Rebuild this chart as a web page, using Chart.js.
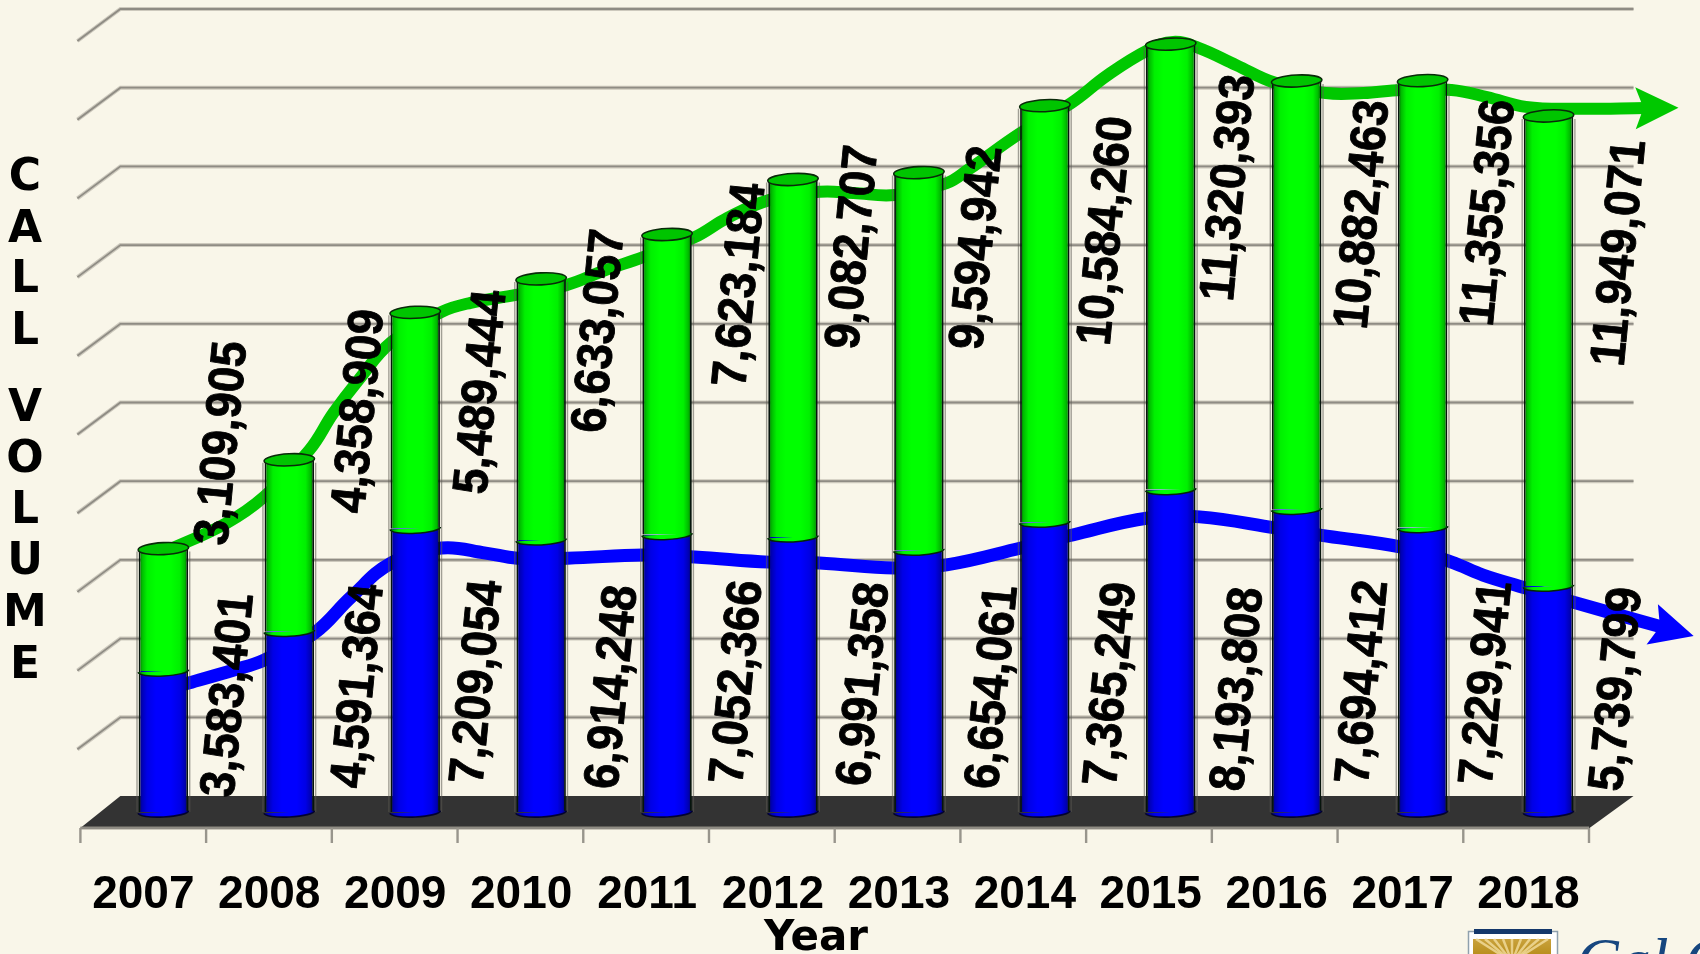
<!DOCTYPE html>
<html>
<head>
<meta charset="utf-8">
<title>Call Volume</title>
<style>
html,body{margin:0;padding:0;background:#F9F6E9;overflow:hidden}
#wrap{position:relative;width:1700px;height:954px}
canvas{display:block}
</style>
<script src="https://cdn.jsdelivr.net/npm/chart.js@4/dist/chart.umd.min.js"></script>
</head>
<body>
<div id="wrap"><canvas id="c" width="1700" height="954"></canvas></div>
<script>
const categories = ['2007','2008','2009','2010','2011','2012','2013','2014','2015','2016','2017','2018'];
const blueValues = [3583401,4591364,7209054,6914248,7052366,6991358,6654061,7365249,8193808,7694412,7229941,5739799];
const greenValues = [3109905,4358909,5489444,6633057,7623184,9082707,9594942,10584260,11320393,10882463,11355356,11949071];
const yTicks = [2,4,6,8,10,12,14,16,18,20];

// Hand-drawn trend curves: year position and value in millions
const greenCurveYears = [2007.0,2007.50,2007.80,2008.16,2008.35,2008.55,2008.81,2009.21,2009.44,2009.80,2010.20,2010.51,2010.81,2011.22,2011.48,2011.81,2012.21,2012.48,2012.81,2013.22,2013.39,2013.81,2014.21,2014.50,2014.82,2015.02,2015.22,2015.52,2015.83,2016.23,2016.53,2016.83,2017.23,2017.51,2017.82,2018.22,2018.77];
const greenCurveValues = [6.60,7.34,8.01,9.20,10.14,10.98,11.94,12.71,12.94,13.14,13.39,13.77,14.10,14.61,15.10,15.55,15.76,15.73,15.68,15.98,16.32,17.26,18.02,18.73,19.36,19.57,19.42,18.98,18.53,18.27,18.27,18.35,18.35,18.17,17.92,17.87,17.89];
const blueCurveYears = [2007.0,2007.20,2007.56,2007.80,2008.20,2008.49,2008.81,2009.21,2009.56,2009.81,2010.21,2010.81,2011.22,2011.81,2012.21,2012.81,2013.22,2013.81,2014.22,2014.82,2015.23,2015.83,2016.24,2016.83,2017.23,2017.48,2017.82,2018.22,2018.90];
const blueCurveValues = [3.10,3.28,3.61,3.86,4.55,5.46,6.33,6.71,6.58,6.45,6.45,6.53,6.48,6.35,6.33,6.20,6.28,6.71,7.04,7.47,7.50,7.22,7.01,6.73,6.35,6.02,5.69,5.31,4.70];

// Label placement (offset from the bar, in pixels)
const blueLabelDx = [64,68,61,70,69,70,72.5,65,66,65,63,67];
const blueLabelDy = [-117,-126,-130,-125,-130,-128,-125,-128,-123,-130,-129,-123];
const greenLabelDx = [57.6,68.7,65,57,72,59,57,60,57,65,65,70];
const greenLabelDy = [-105.6,-48.8,79.7,52,50.5,67.5,75,125,143.5,133.5,132,137];
const yTitleLetters = ['C','A','L','L','V','O','L','U','M','E'];
const yTitleCenters = [174,226,276,328,405,456,507,558,610,662];

const DX = 20, DY = 16, TILT = -0.05, CAP_RY = 6, BOTTOM_RY = 5;
const fmt = v => v.toLocaleString('en-US');

function barGradient(ctx, cx, w, kind){
  const g = ctx.createLinearGradient(cx - w/2, 0, cx + w/2, 0);
  const s = kind === 'green'
    ? ['#005a00','#00bb00','#00f000','#00ff00','#00ff00','#00f000','#00bb00','#005a00']
    : ['#00006a','#0000b4','#0000e6','#0000ff','#0000ff','#0000e6','#0000b4','#00006a'];
  [0,.07,.17,.35,.65,.83,.93,1].forEach((p,i)=>g.addColorStop(p,s[i]));
  return g;
}
function scriptedFill(kind){
  return function(c){
    const chart = c.chart, x = chart.scales.x;
    const flat = kind === 'green' ? '#00ff00' : '#0000ff';
    if(!x || c.dataIndex === undefined) return flat;
    const px = x.getPixelForValue(c.dataIndex);
    if(!Number.isFinite(px)) return flat;
    return barGradient(chart.ctx, px, 49.5, kind);
  };
}
function gridStroke(ctx, pts){
  ctx.beginPath(); pts.forEach((p,i)=> i ? ctx.lineTo(p[0],p[1]) : ctx.moveTo(p[0],p[1]));
  ctx.strokeStyle='rgba(150,146,136,.45)'; ctx.lineWidth=4; ctx.stroke();
  ctx.strokeStyle='#8f8c84'; ctx.lineWidth=1.8; ctx.stroke();
}
function arrowHead(ctx, chart, idx, color){
  const pts = chart.getDatasetMeta(idx).data, n = pts.length;
  const a = pts[n-2], b = pts[n-1];
  const ang = Math.atan2(b.y-a.y, b.x-a.x), cs=Math.cos(ang), sn=Math.sin(ang);
  const P=(al,ac)=>[b.x+al*cs-ac*sn, b.y+al*sn+ac*cs];
  ctx.beginPath();
  ctx.moveTo(...P(33,0)); ctx.lineTo(...P(-10,-21)); ctx.lineTo(...P(-2,0)); ctx.lineTo(...P(-10,21)); ctx.closePath();
  ctx.fillStyle=color; ctx.fill();
}

const scenePlugin = {
  id:'scene3d',
  beforeDatasetsDraw(chart){
    const {ctx, chartArea:a, scales:{y}} = chart;
    const y0 = y.getPixelForValue(0);
    ctx.save();
    // floor
    ctx.beginPath();
    ctx.moveTo(a.left-DX, y0+DY); ctx.lineTo(a.left+DX, y0-DY);
    ctx.lineTo(a.right+DX+2, y0-DY); ctx.lineTo(a.right-DX-2, y0+DY); ctx.closePath();
    ctx.fillStyle='#333333'; ctx.fill();
    // walls
    yTicks.forEach(t=>{
      const py = y.getPixelForValue(t*1e6);
      gridStroke(ctx, [[a.left-DX-3, py+DY],[a.left+DX, py-DY],[a.right+DX+2, py-DY]]);
    });
    // front edge and ticks
    const fl = a.left-DX, fr = a.right-DX-2.5;
    gridStroke(ctx, [[fl, y0+DY],[fr, y0+DY]]);
    ctx.strokeStyle='#98958c'; ctx.lineWidth=2.4;
    for(let i=0;i<=categories.length;i++){
      const tx = fl + (fr-fl)*i/categories.length;
      ctx.beginPath(); ctx.moveTo(tx, y0+DY); ctx.lineTo(tx, y0+DY+15); ctx.stroke();
    }
    ctx.restore();
  },
  afterDatasetsDraw(chart){
    const {ctx, scales:{y}} = chart;
    const blue = chart.getDatasetMeta(0).data, green = chart.getDatasetMeta(1).data;
    const y0 = y.getPixelForValue(0);
    ctx.save();
    categories.forEach((_,i)=>{
      const bb = blue[i], gb = green[i], w = 49.5, cx = bb.x;
      // soft shadow edges
      ctx.strokeStyle='rgba(90,88,80,.55)'; ctx.lineWidth=1.4;
      ctx.beginPath(); ctx.moveTo(cx+w/2+1.6, gb.y+3); ctx.lineTo(cx+w/2+1.6, y0); ctx.stroke();
      ctx.beginPath(); ctx.moveTo(cx-w/2-1.6, gb.y+3); ctx.lineTo(cx-w/2-1.6, y0); ctx.stroke();
      // base of the cylinder
      ctx.beginPath(); ctx.ellipse(cx,y0,w/2+.5,BOTTOM_RY,TILT,0,Math.PI);
      ctx.fillStyle=barGradient(ctx,cx,w,'blue'); ctx.fill();
      ctx.strokeStyle='rgba(0,0,40,.9)'; ctx.lineWidth=1.6; ctx.stroke();
      // seam between the two segments
      ctx.beginPath(); ctx.ellipse(cx,bb.y,w/2+.5,BOTTOM_RY,TILT,0,Math.PI);
      ctx.fillStyle=barGradient(ctx,cx,w,'green'); ctx.fill();
      ctx.strokeStyle='#06240a'; ctx.lineWidth=1.5; ctx.stroke();
      // top cap
      ctx.beginPath(); ctx.ellipse(cx,gb.y,w/2+.5,CAP_RY,TILT,0,Math.PI*2);
      ctx.fillStyle='#00c400'; ctx.fill();
      ctx.strokeStyle='#0a2a0a'; ctx.lineWidth=1.6; ctx.stroke();
    });
    arrowHead(ctx, chart, 2, '#00c800');
    arrowHead(ctx, chart, 3, '#0000ff');
    // value labels
    ctx.fillStyle='#000'; ctx.strokeStyle='#000'; ctx.lineWidth=.8; ctx.lineJoin='round';
    ctx.textAlign='center'; ctx.textBaseline='middle';
    ctx.font='bold 45px "Liberation Sans"';
    const put=(txt,x,yy)=>{
      ctx.save(); ctx.translate(x,yy); ctx.rotate(-84.5*Math.PI/180); ctx.scale(1.02,1.1);
      ctx.fillText(txt,0,2); ctx.strokeText(txt,0,2); ctx.restore();
    };
    categories.forEach((_,i)=>{
      put(fmt(blueValues[i]), blue[i].x+blueLabelDx[i], y0+blueLabelDy[i]);
      put(fmt(greenValues[i]), green[i].x+greenLabelDx[i], green[i].y+greenLabelDy[i]);
    });
    ctx.restore();
  },
  afterDraw(chart){
    const {ctx} = chart;
    ctx.save();
    // vertical axis title
    ctx.fillStyle='#000'; ctx.textAlign='center'; ctx.textBaseline='alphabetic';
    ctx.font='bold 44px "DejaVu Sans"';
    yTitleLetters.forEach((l,i)=> ctx.fillText(l,25,yTitleCenters[i]+16));
    // horizontal axis title
    ctx.font='bold 42px "DejaVu Sans"';
    ctx.fillText('Year',816,950);
    // organisation logo, cropped by the frame
    ctx.fillStyle='#ffffff'; ctx.fillRect(1468,931,90,30);
    ctx.strokeStyle='#8fa0ad'; ctx.lineWidth=1.5; ctx.strokeRect(1468.5,931.5,89,30);
    ctx.fillStyle='#14386b'; ctx.fillRect(1474,929,78,5);
    const gold=ctx.createLinearGradient(0,939,0,954);
    gold.addColorStop(0,'#c9a23c'); gold.addColorStop(1,'#b98f1e');
    ctx.fillStyle=gold; ctx.fillRect(1473,939,78,15);
    ctx.strokeStyle='rgba(245,225,165,.75)'; ctx.lineWidth=2.5;
    for(let k=-4;k<=4;k++){
      ctx.beginPath(); ctx.moveTo(1512,962); ctx.lineTo(1512+k*9,939); ctx.stroke();
    }
    ctx.fillStyle='#16467f'; ctx.textAlign='left';
    ctx.font='italic 64px "Liberation Serif"';
    ctx.fillText('Cal OES',1576,982);
    ctx.restore();
  }
};

const commonBar = {
  type:'bar', stack:'total', order:1, grouped:false, maxBarThickness:49.5,
  borderWidth:{left:1.8,right:1.8,top:0,bottom:0}, borderColor:'#06140c', borderSkipped:false
};
const curve = (xs, ys) => xs.map((x,i)=>({x, y:ys[i]*1e6}));

new Chart(document.getElementById('c'),{
  data:{
    labels:categories,
    datasets:[
      {...commonBar, label:'Blue', data:blueValues, backgroundColor:scriptedFill('blue')},
      {...commonBar, label:'Green', data:greenValues, backgroundColor:scriptedFill('green')},
      {type:'line', label:'Green trend', order:2, xAxisID:'xL', data:curve(greenCurveYears,greenCurveValues),
        borderColor:'#00c800', borderWidth:12, pointRadius:0, tension:.4, capBezierPoints:false, clip:false, fill:false},
      {type:'line', label:'Blue trend', order:2, xAxisID:'xL', data:curve(blueCurveYears,blueCurveValues),
        borderColor:'#0000ff', borderWidth:13, pointRadius:0, tension:.4, capBezierPoints:false, clip:false, fill:false}
    ]
  },
  options:{
    responsive:false, animation:false, devicePixelRatio:1,
    layout:{padding:{left:100.4,right:88.5,top:25,bottom:0}},
    plugins:{legend:{display:false},title:{display:false},tooltip:{enabled:false}},
    scales:{
      x:{
        type:'category', stacked:true, offset:true,
        grid:{display:false,drawTicks:false}, border:{display:false},
        ticks:{color:'#000',autoSkip:false,maxRotation:0,minRotation:0,labelOffset:-20,padding:60,
               font:{family:'Liberation Sans',weight:'bold',size:46,lineHeight:1}},
        afterFit(s){ s.height = 142; }
      },
      xL:{type:'linear',display:false,min:2006.5,max:2018.5,offset:false,grid:{display:false}},
      y:{display:false,min:0,max:20000000,grid:{display:false}}
    }
  },
  plugins:[scenePlugin]
});
</script>
</body>
</html>
